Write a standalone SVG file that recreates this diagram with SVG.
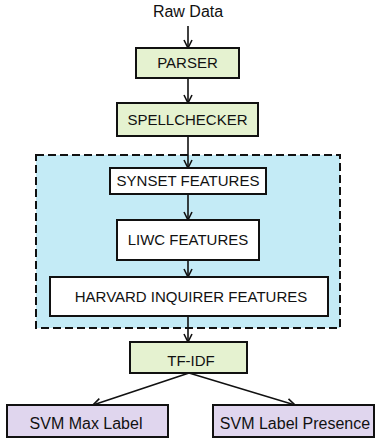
<svg xmlns="http://www.w3.org/2000/svg" width="377" height="439" viewBox="0 0 377 439">
  <style>
    text { font-family: "Liberation Sans", Arial, sans-serif; font-size: 15px; fill: #111; text-anchor: middle; }
    .mixed { font-size: 16px; }
    .box { stroke: #111; stroke-width: 2; }
    .green { fill: #e5f2d0; }
    .white { fill: #ffffff; }
    .purple { fill: #e0d6ee; }
    .edge { stroke: #111; stroke-width: 1.6; fill: none; marker-end: url(#arrow); }
  </style>
  <defs>
    <marker id="arrow" viewBox="0 0 10 10" refX="9" refY="5" markerWidth="10" markerHeight="10" markerUnits="userSpaceOnUse" orient="auto">
      <path d="M1,1 L9,5 L1,9" fill="none" stroke="#111" stroke-width="1.6"/>
    </marker>
  </defs>

  <!-- feature extraction stage -->
  <g id="feature-group">
    <rect x="36" y="155" width="304" height="173" fill="#c4ebf6" stroke="#111" stroke-width="2" stroke-dasharray="8,4"/>
  </g>

  <g id="connectors">
    <line class="edge" x1="188" y1="26" x2="188" y2="48"/>
    <line class="edge" x1="188" y1="78" x2="188" y2="103"/>
    <line class="edge" x1="188" y1="136" x2="188" y2="168"/>
    <line class="edge" x1="188" y1="194" x2="188" y2="220"/>
    <line class="edge" x1="188" y1="260" x2="188" y2="277"/>
    <line class="edge" x1="188" y1="316" x2="188" y2="342"/>
    <line class="edge" x1="189" y1="373" x2="93" y2="405"/>
    <line class="edge" x1="189" y1="373" x2="295" y2="405"/>
  </g>

  <g id="raw-data">
    <text class="mixed" x="188" y="17">Raw Data</text>
  </g>

  <g id="parser">
    <rect class="box green" x="136" y="48" width="103" height="30"/>
    <text x="187.5" y="68">PARSER</text>
  </g>

  <g id="spellchecker">
    <rect class="box green" x="117" y="103" width="141" height="33"/>
    <text x="187.5" y="125">SPELLCHECKER</text>
  </g>

  <g id="synset">
    <rect class="box white" x="110" y="168" width="156" height="26"/>
    <text x="188" y="186">SYNSET FEATURES</text>
  </g>

  <g id="liwc">
    <rect class="box white" x="117" y="220" width="142" height="40"/>
    <text x="188" y="245">LIWC FEATURES</text>
  </g>

  <g id="harvard">
    <rect class="box white" x="50" y="277" width="278" height="39"/>
    <text x="191" y="302">HARVARD INQUIRER FEATURES</text>
  </g>

  <g id="tfidf">
    <rect class="box green" x="130" y="342" width="117" height="31"/>
    <text x="191" y="366">TF-IDF</text>
  </g>

  <g id="svm-max">
    <rect class="box purple" x="7" y="405" width="161" height="32"/>
    <text class="mixed" x="86" y="429">SVM Max Label</text>
  </g>

  <g id="svm-presence">
    <rect class="box purple" x="213" y="405" width="161" height="32"/>
    <text class="mixed" x="295" y="429">SVM Label Presence</text>
  </g>
</svg>
